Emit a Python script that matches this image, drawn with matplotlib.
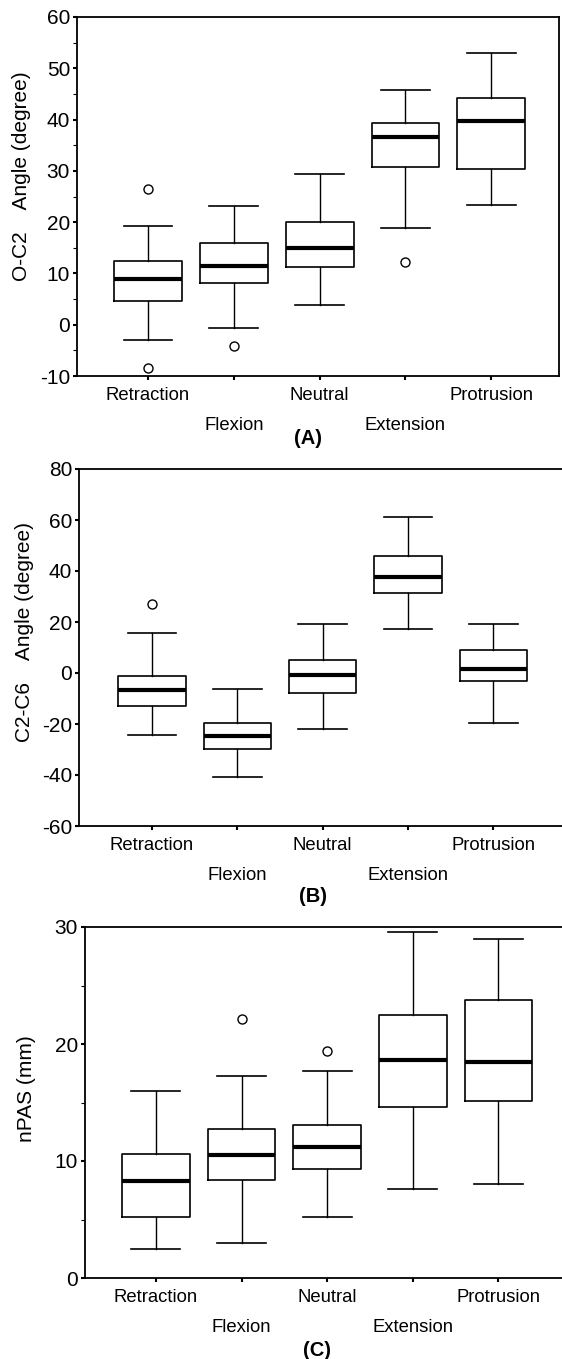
import matplotlib
matplotlib.use("Agg")
import matplotlib.pyplot as plt
import matplotlib.transforms as mtransforms
from matplotlib.ticker import MultipleLocator

plt.rcParams['font.family'] = ['Liberation Sans', 'DejaVu Sans']
plt.rcParams['axes.unicode_minus'] = False

# categories (x axis)
categories = ['Retraction', 'Flexion', 'Neutral', 'Extension', 'Protrusion']

# (A) O-C2 angle
a_lo = [-2.9, -0.7, 3.8, 18.8, 23.3]
a_q1 = [4.6, 8.1, 11.3, 30.7, 30.3]
a_med = [9.0, 11.5, 14.9, 36.6, 39.7]
a_q3 = [12.4, 16.0, 20.1, 39.4, 44.2]
a_hi = [19.2, 23.2, 29.4, 45.7, 52.9]
a_fliers = [[26.4, -8.5], [-4.2], [], [12.3], []]

# (B) C2-C6 angle
b_lo = [-24.3, -40.9, -22.1, 17.1, -19.5]
b_q1 = [-12.8, -29.8, -7.7, 31.5, -3.0]
b_med = [-6.5, -24.7, -0.8, 37.6, 1.4]
b_q3 = [-1.2, -19.5, 5.2, 45.9, 8.9]
b_hi = [15.7, -6.4, 19.2, 61.2, 19.2]
b_fliers = [[27.1], [], [], [], []]

# (C) nPAS
c_lo = [2.5, 3.0, 5.2, 7.6, 8.0]
c_q1 = [5.2, 8.35, 9.3, 14.6, 15.1]
c_med = [8.3, 10.5, 11.2, 18.6, 18.5]
c_q3 = [10.6, 12.7, 13.1, 22.5, 23.8]
c_hi = [16.0, 17.3, 17.7, 29.6, 29.0]
c_fliers = [[], [22.1], [19.4], [], []]

W, H = 562, 1359
fig = plt.figure(figsize=(W / 100, H / 100), dpi=100)


def px_axes(left, right, top, bottom):
    return fig.add_axes([left / W, 1 - bottom / H, (right - left) / W, (bottom - top) / H])


def draw_panel(ax, lo, q1, med, q3, hi, fliers, ylim, ystep, minor, xlim,
               ylabel, ylabel_x, ylabel_y, tag, tag_x, tag_y):
    stats = []
    for i in range(len(categories)):
        stats.append(dict(whislo=lo[i], q1=q1[i], med=med[i], q3=q3[i],
                          whishi=hi[i], fliers=fliers[i]))
    pos = list(range(1, len(categories) + 1))
    ax.bxp(stats, positions=pos, widths=0.79, capwidths=0.57,
           boxprops=dict(color='black', linewidth=1.2),
           whiskerprops=dict(color='black', linewidth=1.0),
           capprops=dict(color='black', linewidth=1.2),
           medianprops=dict(color='black', linewidth=3.0, solid_capstyle='butt'),
           flierprops=dict(marker='o', markersize=6.5, markerfacecolor='white',
                           markeredgecolor='black', markeredgewidth=1.0),
           manage_ticks=False)
    ax.set_xlim(*xlim)
    ax.set_ylim(*ylim)
    ax.yaxis.set_major_locator(MultipleLocator(ystep))
    if minor:
        ax.yaxis.set_minor_locator(MultipleLocator(ystep / 2))
    ax.set_xticks(pos)
    ax.set_xticklabels(categories, fontsize=13.3)
    ax.tick_params(axis='both', direction='out', length=3, width=1.5, colors='black')
    ax.tick_params(axis='y', which='major', labelsize=15, pad=2)
    ax.tick_params(axis='y', which='minor', length=3, width=0.8)
    ax.tick_params(axis='x', pad=5)
    offset = mtransforms.ScaledTranslation(0, -0.30, fig.dpi_scale_trans)
    for lab in ax.get_xticklabels()[1::2]:
        lab.set_transform(lab.get_transform() + offset)
    for sp in ax.spines.values():
        sp.set_linewidth(1.3)
    fig.text(ylabel_x / W, 1 - ylabel_y / H, ylabel, rotation=90, fontsize=15,
             ha='center', va='center')
    fig.text(tag_x / W, 1 - tag_y / H, tag, fontsize=14.5, fontweight='bold',
             ha='center', va='center')


axA = px_axes(77, 559, 17, 376)
draw_panel(axA, a_lo, a_q1, a_med, a_q3, a_hi, a_fliers, (-10, 60), 10, True,
           (0.172, 5.79), 'O-C2    Angle (degree)', 22, 176, '(A)', 308, 439)

axB = px_axes(79, 566, 469, 826)
draw_panel(axB, b_lo, b_q1, b_med, b_q3, b_hi, b_fliers, (-60, 80), 20, False,
           (0.146, 5.85), 'C2-C6    Angle (degree)', 25, 632, '(B)', 313, 896)

axC = px_axes(85, 566, 927, 1278)
draw_panel(axC, c_lo, c_q1, c_med, c_q3, c_hi, c_fliers, (0, 30), 10, True,
           (0.172, 5.79), 'nPAS (mm)', 27, 1089, '(C)', 317, 1350)

fig.savefig('out.png', dpi=100)
